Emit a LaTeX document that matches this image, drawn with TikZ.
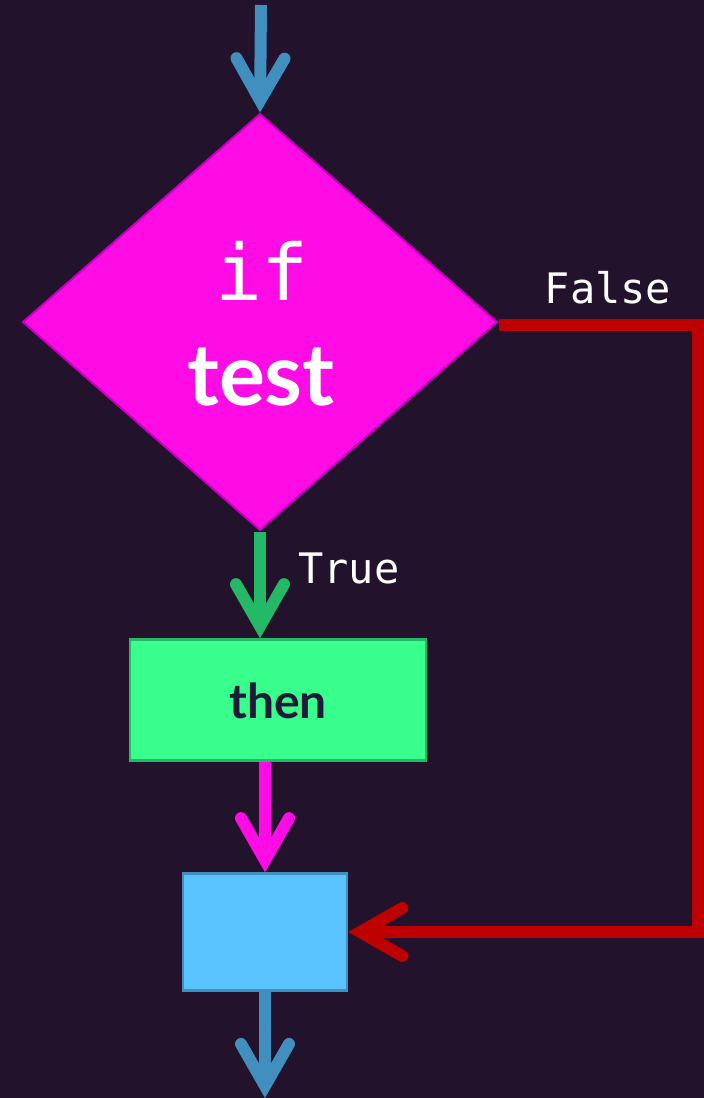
\documentclass[tikz,border=0pt]{standalone}
\usepackage{fontspec}
\usetikzlibrary{arrows.meta,shapes.geometric}
\newfontfamily\codefont{DejaVu Sans Mono}
\newfontfamily\labelfont{Lato}
\definecolor{bgdark}{HTML}{22122C}
\definecolor{decfill}{HTML}{FF0BE6}
\definecolor{decline}{HTML}{C400BE}
\definecolor{flowblue}{HTML}{418FBE}
\definecolor{flowgreen}{HTML}{24B966}
\definecolor{thenfill}{HTML}{38FF8C}
\definecolor{endfill}{HTML}{59C3FF}
\definecolor{falsered}{HTML}{BF0000}
\definecolor{thentext}{HTML}{1E1A3A}
\tikzset{
  flow/.style={line width=12pt,
    -{Straight Barb[length=42pt,width=48pt,line cap=round,line join=miter]}},
  edgelabel/.style={text=white,anchor=base,inner sep=0pt,
    font=\codefont\fontsize{42}{48}\selectfont},
  boxnode/.style={rectangle,line width=2.5pt,inner sep=0pt},
}
\begin{document}
\begin{tikzpicture}[x=1pt,y=-1pt]
  \fill[bgdark] (0,0) rectangle (704,1098);
  \useasboundingbox (0,0) rectangle (704,1098);

  % decision
  \node[diamond,fill=decfill,draw=decline,line width=2pt,inner sep=0pt,
        minimum width=475pt,minimum height=417pt] (test) at (260,322) {};
  \node[text=white,anchor=base,inner sep=0pt,
        font=\codefont\fontsize{78}{80}\selectfont] (iftxt) at (262,300) {if};
  \node[text=white,anchor=base,inner sep=0pt,
        font=\labelfont\bfseries\fontsize{86}{90}\selectfont] (testtxt) at (261,405) {test};

  % then block and join block
  \node[boxnode,fill=thenfill,draw=flowgreen,minimum width=296pt,minimum height=121pt]
        (then) at (278,700) {};
  \node[text=thentext,anchor=base,inner sep=0pt,
        font=\labelfont\bfseries\fontsize{48}{52}\selectfont] (thentxt) at (278,718) {then};
  \node[boxnode,fill=endfill,draw=flowblue,minimum width=164pt,minimum height=117pt]
        (join) at (265,932) {};

  % free ends of the entry and exit connectors
  \coordinate (entry) at (261,5);
  \coordinate (exit) at (265,1098);
  \coordinate (rightturn) at (698,0);

  % connectors
  \draw[flow,flowblue] (entry) -- (test.north);
  \draw[flow,flowgreen] (test.south) -- (test.south |- then.north);
  \draw[flow,decfill] (join.north |- then.south) -- (join.north);
  \draw[flow,flowblue] (join.south) -- (exit);
  \draw[flow,falsered] ([yshift=-3pt]test.east) -- ([yshift=-3pt]test.east -| rightturn)
        -- (rightturn |- join.east) -- (join.east);

  % branch labels
  \node[edgelabel] (truelbl) at (349,583) {True};
  \node[edgelabel] (falselbl) at (608,303) {False};
\end{tikzpicture}
\end{document}
